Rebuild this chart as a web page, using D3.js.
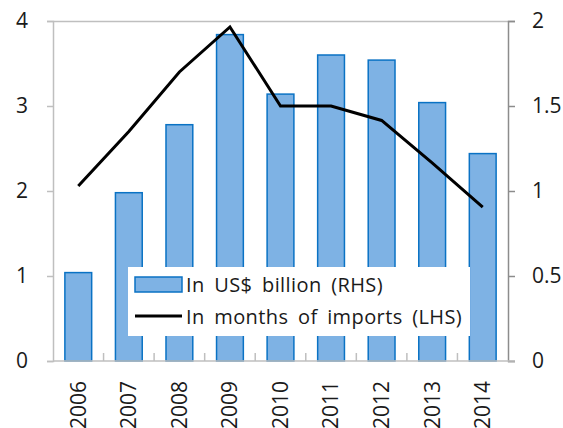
<!DOCTYPE html>
<html lang="en">
<head>
<meta charset="utf-8">
<title></title>
<script src="https://d3js.org/d3.v7.min.js"></script>
<style>
body { margin: 0; background: #fff; }
text { font-family: "Open Sans", "Noto Sans", sans-serif; fill: #1a1a1a; }
</style>
</head>
<body>
<svg width="563" height="428"></svg>
<script>

var years = ["2006","2007","2008","2009","2010","2011","2012","2013","2014"]
var billions = [0.52, 0.99, 1.39, 1.92, 1.57, 1.80, 1.77, 1.52, 1.22]
var months = [2.06, 2.70, 3.40, 3.93, 3.00, 3.00, 2.83, 2.33, 1.81]
var leftTicks = [0, 1, 2, 3, 4]
var rightTicks = [0, 0.5, 1, 1.5, 2]
var legendLabels = ["In US$ billion (RHS)", "In months of imports (LHS)"]

var svg = d3.select("svg")
var margin = {top: 21, right: 55, bottom: 67, left: 53}
var width = 563 - margin.left - margin.right
var height = 428 - margin.top - margin.bottom

var g = svg.append("g").attr("transform", `translate(${margin.left}, ${margin.top})`)

var x = d3.scaleBand().domain(years).range([0, width]).paddingInner(0.47).paddingOuter(0.235)
var band = d3.scaleBand().domain(years).range([0, width])
var yL = d3.scaleLinear().domain([0, 4]).range([height, 0])
var yR = d3.scaleLinear().domain([0, 2]).range([height, 0])

// top frame line
g.append("line")
    .attr("x1", 0).attr("x2", width).attr("y1", 0.5).attr("y2", 0.5)
    .attr("stroke", "#bfbfbf").attr("stroke-width", 1.5)

g.selectAll(".bar")
    .data(billions)
    .enter().append("rect")
    .attr("x", (d, i) => x(years[i]))
    .attr("y", d => yR(d))
    .attr("width", x.bandwidth())
    .attr("height", d => height - yR(d))
    .attr("fill", "#7eb2e4")
    .attr("stroke", "#0a72c4")
    .attr("stroke-width", 1.5)

var left = g.append("g")
    .call(d3.axisLeft(yL).tickValues(leftTicks).tickFormat(d3.format("")).tickSize(6).tickPadding(19))
left.select(".domain").attr("stroke", "#bfbfbf").attr("stroke-width", 1.5)
left.selectAll(".tick line").attr("stroke", "#bfbfbf").attr("stroke-width", 1.5)
left.selectAll("text").style("font-size", "21px")

var right = g.append("g")
    .attr("transform", `translate(${width}, 0)`)
    .call(d3.axisRight(yR).tickValues(rightTicks).tickFormat(d3.format("")).tickSize(7).tickPadding(17))
right.select(".domain").attr("stroke", "#8c8c8c").attr("stroke-width", 1.5)
right.selectAll(".tick line").attr("stroke", "#8c8c8c").attr("stroke-width", 1.5)
right.selectAll("text").style("font-size", "21px")

var bottom = g.append("g")
    .attr("transform", `translate(0, ${height})`)
    .call(d3.axisBottom(x).tickSize(0).tickPadding(0))
bottom.select(".domain").remove()
bottom.selectAll("text")
    .style("font-size", "21px")
    .attr("text-anchor", "end")
    .attr("transform", "rotate(-90)")
    .attr("x", -20)
    .attr("y", 0)
    .attr("dy", "0.35em")

g.selectAll(".sep")
    .data(years.slice(1))
    .enter().append("line")
    .attr("x1", d => band(d)).attr("x2", d => band(d))
    .attr("y1", height).attr("y2", height - 8)
    .attr("stroke", "#bfbfbf").attr("stroke-width", 1.5)

g.append("line")
    .attr("x1", 0).attr("x2", width + 7).attr("y1", height).attr("y2", height)
    .attr("stroke", "#bfbfbf").attr("stroke-width", 1.5)

var line = d3.line()
    .x((d, i) => x(years[i]) + x.bandwidth() / 2)
    .y(d => yL(d))

g.append("path")
    .datum(months)
    .attr("fill", "none")
    .attr("stroke", "#000")
    .attr("stroke-width", 3)
    .attr("d", line)

// legend
var lg = svg.append("g").attr("transform", "translate(128, 267)")
lg.append("rect").attr("width", 342).attr("height", 69).attr("fill", "#fff")
lg.append("rect").attr("x", 7).attr("y", 10).attr("width", 47).attr("height", 15)
    .attr("fill", "#7eb2e4").attr("stroke", "#0a72c4").attr("stroke-width", 1.5)
lg.append("line").attr("x1", 7).attr("x2", 54).attr("y1", 49).attr("y2", 49)
    .attr("stroke", "#000").attr("stroke-width", 3)
lg.selectAll(".lt")
    .data(legendLabels)
    .enter().append("text")
    .attr("x", 58)
    .attr("y", (d, i) => 18 + i * 32)
    .attr("dy", "0.35em")
    .style("font-size", "20px")
    .style("letter-spacing", "0.4px")
    .style("word-spacing", "4px")
    .text(d => d)

</script>
</body>
</html>
